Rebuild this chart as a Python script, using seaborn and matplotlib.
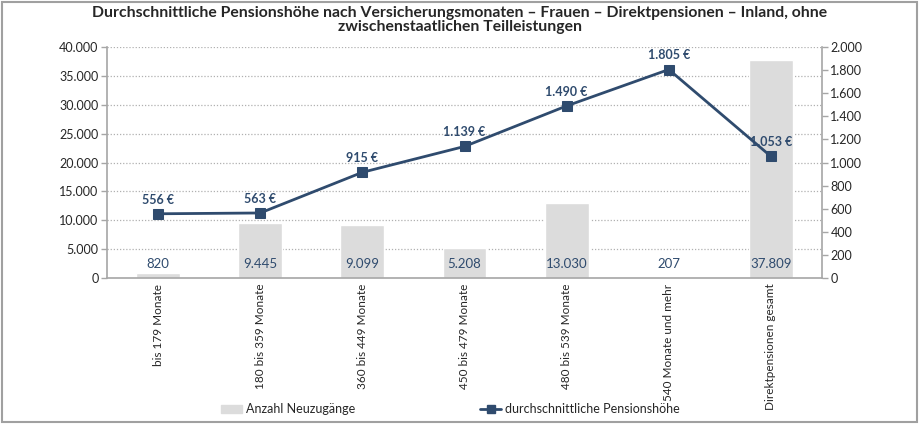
import matplotlib
matplotlib.use("Agg")
import matplotlib.pyplot as plt
import seaborn as sns
import pandas as pd
import numpy as np
from matplotlib.patches import Rectangle, Patch
from matplotlib.lines import Line2D

categories = ["bis 179 Monate", "180 bis 359 Monate", "360 bis 449 Monate",
              "450 bis 479 Monate", "480 bis 539 Monate", "540 Monate und mehr",
              "Direktpensionen gesamt"]
neuzugaenge = [820, 9445, 9099, 5208, 13030, 207, 37809]
pension = [556, 563, 915, 1139, 1490, 1805, 1053]
left_ticks = [0, 5000, 10000, 15000, 20000, 25000, 30000, 35000, 40000]
right_ticks = [0, 200, 400, 600, 800, 1000, 1200, 1400, 1600, 1800, 2000]

def de(n):
    return f"{n:,}".replace(",", ".")

sns.set_theme(style="white")
plt.rcParams['font.family'] = ['Lato', 'DejaVu Sans']

BAR = "#dcdcdc"
LINE = "#2f4b6e"
TXT = "#2f4b6e"
AX = "#a6a6a6"

fig = plt.figure(figsize=(9.19, 4.24), dpi=100)
ax = fig.add_axes([107/919, 1-278/424, (822-107)/919, (278-47)/424])

df = pd.DataFrame({"cat": categories, "n": neuzugaenge, "p": pension})
sns.barplot(data=df, x="cat", y="n", color=BAR, width=0.43, ax=ax, saturation=1, zorder=2)
ax.set_ylim(0, 40000)
ax.set_xlim(-0.5, len(categories)-0.5)
ax.set_yticks(left_ticks)
ax.set_yticklabels([de(t) for t in left_ticks], fontsize=9)
for t in left_ticks[1:]:
    ax.axhline(t, color="#b0b0b0", lw=0.9, ls=(0, (1, 1.5)), zorder=0)
ax.set_xlabel("")
ax.set_ylabel("")
ax.set_xticks(range(len(categories)))
ax.set_xticklabels(categories, rotation=90, fontsize=8.5, va="top")
ax.tick_params(axis="x", length=0, pad=4)
ax.set_xticks(np.arange(-0.5, len(categories), 1.0), minor=True)
ax.tick_params(axis="x", which="minor", length=4, color=AX, width=1)
ax.tick_params(axis="y", length=4, color=AX, width=1, left=True, pad=2)
for s in ["top", "right"]:
    ax.spines[s].set_visible(False)
for s in ["left", "bottom"]:
    ax.spines[s].set_color(AX)
    ax.spines[s].set_linewidth(1.2)

for i, v in enumerate(neuzugaenge):
    ax.text(i, 1300, de(v), ha="center", va="bottom", color=TXT, fontsize=9.5)

ax2 = ax.twinx()
sns.lineplot(data=df, x="cat", y="p", ax=ax2, color=LINE, lw=2, marker="s",
             markersize=7, markeredgecolor=LINE, sort=False, zorder=5)
ax2.set_ylim(0, 2000)
ax2.set_yticks(right_ticks)
ax2.set_yticklabels([de(t) for t in right_ticks], fontsize=9)
ax2.set_ylabel("")
ax2.set_xlabel("")
ax2.tick_params(axis="y", length=4, color=AX, width=1, right=True, pad=2)
for s in ["top", "left", "bottom"]:
    ax2.spines[s].set_visible(False)
ax2.spines["right"].set_color(AX)
ax2.spines["right"].set_linewidth(1.2)
for i, v in enumerate(pension):
    ax2.text(i, v + 70, de(v) + " €", ha="center", va="bottom", color=TXT,
             fontsize=9, fontweight="bold")

fig.text(0.5, 0.987, "Durchschnittliche Pensionshöhe nach Versicherungsmonaten – Frauen – Direktpensionen – Inland, ohne\nzwischenstaatlichen Teilleistungen",
         ha="center", va="top", fontsize=11.3, fontweight="bold", linespacing=1.05)

handles = [Patch(facecolor=BAR, edgecolor=BAR),
           Line2D([0], [0], color=LINE, lw=2, marker="s", markersize=6)]
fig.legend(handles, ["Anzahl Neuzugänge", "durchschnittliche Pensionshöhe"],
           loc="center", bbox_to_anchor=(0.49, 1-409/424), ncol=2, frameon=False,
           fontsize=9, columnspacing=10, handlelength=1.7, handleheight=0.6,
           handletextpad=0.3)

fig.patches.append(Rectangle((0.002, 0.004), 0.996, 0.992, transform=fig.transFigure,
                             fill=False, edgecolor="#a0a0a0", lw=1.5))
fig.savefig("out.png", dpi=100)
